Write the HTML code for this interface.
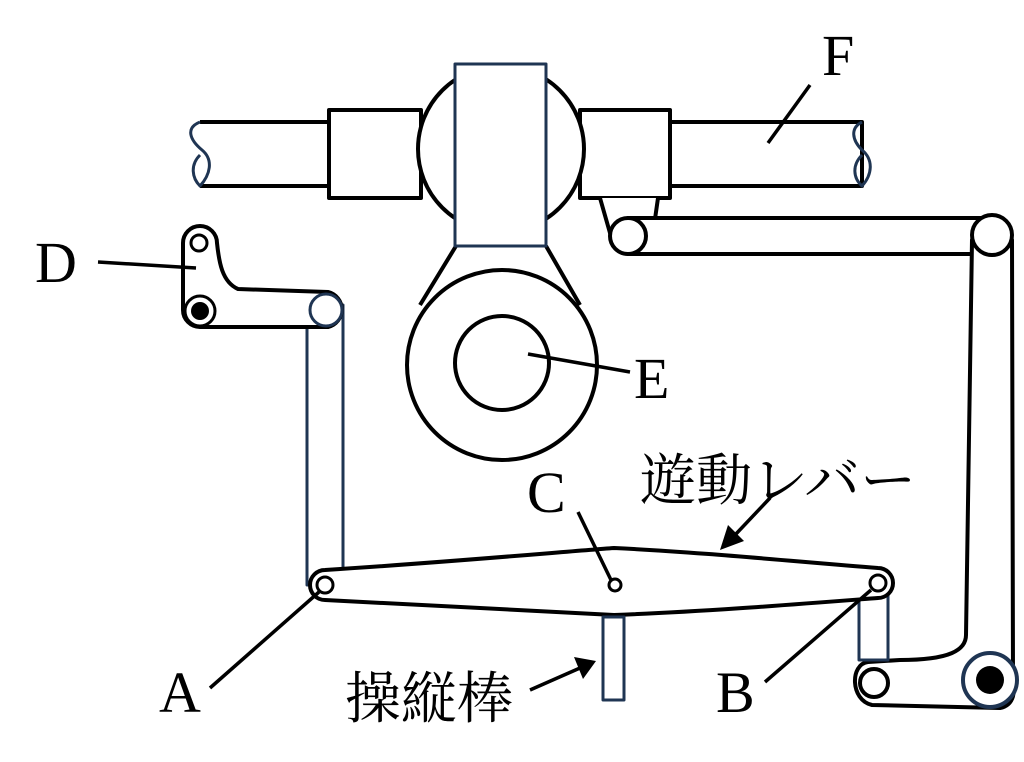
<!DOCTYPE html>
<html><head><meta charset="utf-8"><style>
html,body{margin:0;padding:0;background:#fff;}
svg{display:block}
text{font-family:"Liberation Serif","Noto Serif CJK SC",serif;fill:#000}
</style></head><body>
<svg width="1024" height="762" viewBox="0 0 1024 762" xmlns="http://www.w3.org/2000/svg">
<g fill="#fff" stroke="#000" stroke-width="4" stroke-linejoin="round">
<path d="M200,122 H330 V186 H200" />
<path d="M200,122 C185,128 190,140 202,150 C214,160 210,175 200,186 C192,178 190,165 200,155" stroke="#1f3553" stroke-width="3" fill="none"/>
<path d="M668,122 H862 V186 H668" />
<path d="M862,122 C850,128 852,140 862,150 C874,160 872,175 862,186 C853,178 852,165 862,155" stroke="#1f3553" stroke-width="3" fill="none"/>
<rect x="329" y="110" width="92" height="88"/>
<rect x="580" y="110" width="90" height="88"/>
<circle cx="501" cy="149" r="83"/>
<path d="M600,198 L612,240 L652,240 L658,198" />
<path d="M628,218 H992 V254 H628 Z"/>
<circle cx="628" cy="236" r="18"/>
<path d="M456,246 L420,305 M546,246 L580,305" fill="none"/>
<circle cx="502" cy="365" r="95"/>
<circle cx="502" cy="363" r="47"/>
<path d="M972,240 L966,635 C966,650 950,660 900,660 L868,662 C850,664 850,700 872,705 L1000,708 C1015,705 1015,690 1013,680 L1012,240 Z"/>
<circle cx="992" cy="235" r="20"/>
<rect x="859" y="585" width="29" height="75" stroke="#1f3553" stroke-width="3"/>
<circle cx="874" cy="683" r="14"/>
<circle cx="990" cy="680" r="27" stroke="#1f3553" stroke-width="4"/>
<circle cx="990" cy="680" r="14" fill="#000" stroke="none"/>
<rect x="307" y="305" width="36" height="280" stroke="#1f3553" stroke-width="3"/>
<path d="M183,243 A17,17 0 0 1 217,243 C219,262 222,282 238,289 L328,292 A18,18 0 0 1 328,327 L200,327 A17,17 0 0 1 183,310 Z"/>
<circle cx="199" cy="243" r="8" stroke-width="3"/>
<circle cx="200" cy="311" r="15" stroke-width="3"/>
<circle cx="200" cy="311" r="9" fill="#000" stroke="none"/>
<circle cx="326" cy="310" r="16" stroke="#1f3553" stroke-width="3"/>
<path d="M325,570 C450,562 560,552 614,548 C700,552 800,562 878,568 A15,15 0 0 1 878,598 C800,604 700,612 614,615 C560,612 450,606 325,600 A15,15 0 0 1 325,570 Z"/>
<circle cx="325" cy="585" r="8" stroke-width="3"/>
<circle cx="878" cy="583" r="8" stroke-width="3"/>
<circle cx="615" cy="585" r="6" stroke-width="3"/>
<rect x="603" y="617" width="21" height="83" stroke="#1f3553" stroke-width="3"/>
<rect x="455" y="64" width="91" height="182" stroke="#1f3553" stroke-width="3"/>
</g>
<g stroke="#000" stroke-width="3.5" fill="none">
<line x1="810" y1="85" x2="768" y2="143"/>
<line x1="98" y1="262" x2="196" y2="268"/>
<line x1="528" y1="354" x2="630" y2="372"/>
<line x1="578" y1="512" x2="611" y2="580"/>
<line x1="210" y1="688" x2="319" y2="592"/>
<line x1="765" y1="682" x2="871" y2="590"/>
<line x1="770" y1="498" x2="735" y2="535"/>
<line x1="530" y1="690" x2="580" y2="668"/>
</g>
<path d="M720,550 L728,525 L744,541 Z" fill="#000"/>
<path d="M596,661 L574,657 L583,679 Z" fill="#000"/>
<text x="822" y="75" font-size="58">F</text>
<text x="35" y="282" font-size="58">D</text>
<text x="634" y="398" font-size="58">E</text>
<text x="527" y="512" font-size="58">C</text>
<text x="159" y="712" font-size="58">A</text>
<text x="716" y="712" font-size="58">B</text>
<text x="640" y="500" font-size="56">遊動レバー</text>
<text x="345" y="718" font-size="56">操縦棒</text>
</svg>
</body></html>
